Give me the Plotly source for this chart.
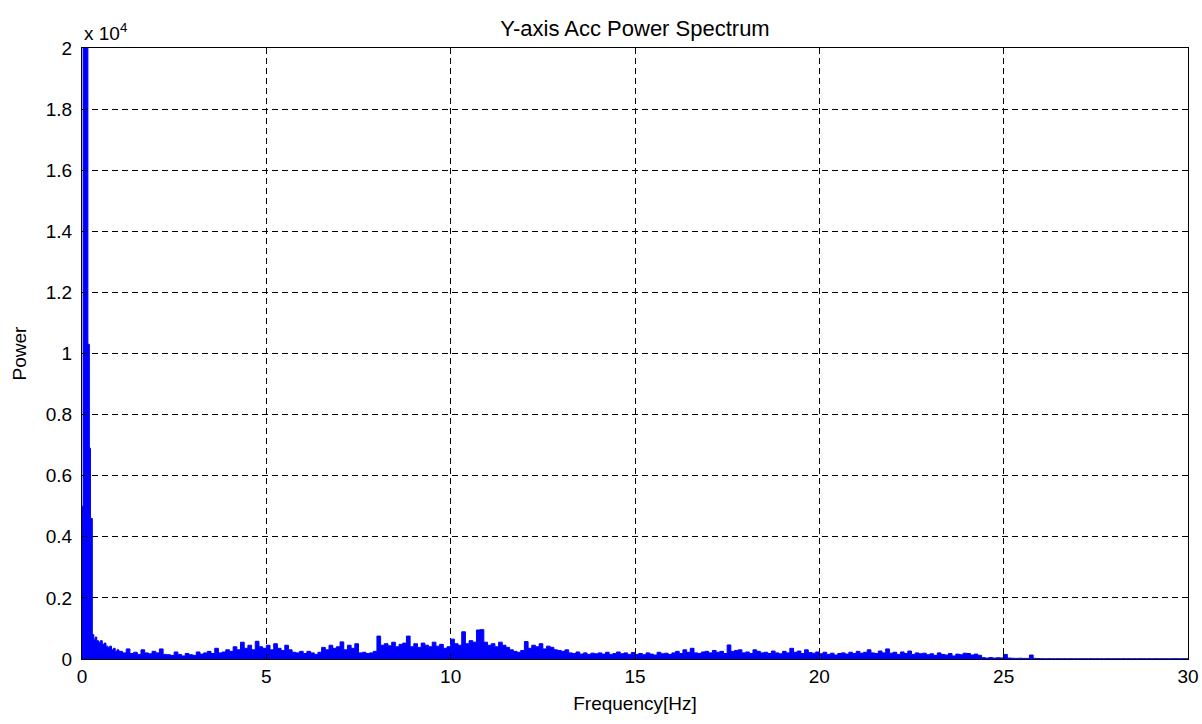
import plotly.graph_objects as go

# Low-frequency part (Hz, power)
freq_low = [0.00, 0.03, 0.16, 0.20, 0.23, 0.28, 0.32, 0.36, 0.40, 0.45,
            0.50, 0.55, 0.60, 0.65, 0.70, 0.75, 0.80, 0.85, 0.90, 0.95]
power_low = [5000, 26000, 10300, 6900, 4600, 800, 650, 720, 600, 550,
             600, 480, 520, 420, 380, 420, 300, 350, 250, 300]

# From 1.0 Hz onward, one row per Hz, 0.1 Hz steps
power_rows = [
    [250, 200, 330, 180, 220, 150, 300, 200, 170, 250],   # 1
    [200, 330, 150, 140, 120, 230, 150, 100, 180, 140],   # 2
    [120, 230, 160, 200, 250, 180, 350, 200, 230, 300],   # 3
    [250, 400, 300, 550, 350, 450, 300, 580, 400, 350],   # 4
    [450, 300, 500, 350, 280, 450, 300, 220, 200, 250],   # 5
    [180, 250, 200, 150, 220, 380, 300, 450, 350, 400],   # 6
    [560, 300, 450, 350, 500, 200, 220, 180, 200, 250],   # 7
    [750, 450, 500, 430, 550, 400, 480, 520, 750, 400],   # 8
    [500, 380, 520, 450, 400, 550, 420, 480, 350, 400],   # 9
    [650, 500, 450, 890, 500, 600, 550, 950, 960, 550],   # 10
    [450, 500, 400, 550, 450, 380, 300, 250, 220, 280],   # 11
    [570, 350, 450, 400, 500, 330, 420, 380, 300, 280],   # 12
    [250, 300, 200, 180, 230, 160, 200, 150, 190, 170],   # 13
    [200, 160, 220, 150, 180, 230, 170, 200, 150, 210],   # 14
    [150, 180, 140, 200, 160, 130, 220, 170, 190, 150],   # 15
    [200, 250, 180, 300, 220, 350, 200, 180, 230, 250],   # 16
    [200, 280, 220, 250, 180, 460, 250, 280, 300, 200],   # 17
    [230, 180, 300, 250, 200, 220, 180, 260, 200, 170],   # 18
    [250, 200, 350, 220, 260, 180, 300, 210, 190, 230],   # 19
    [170, 220, 150, 190, 130, 180, 200, 160, 220, 180],   # 20
    [250, 190, 220, 300, 200, 180, 260, 200, 330, 190],   # 21
    [220, 150, 230, 180, 260, 150, 200, 170, 190, 140],   # 22
    [170, 120, 200, 150, 130, 180, 100, 160, 140, 190],   # 23
    [180, 130, 160, 120, 45, 30, 50, 30, 40, 35],         # 24
    [150, 30, 25, 20, 25, 20, 20, 130, 20, 15],           # 25
    [12, 10, 12, 10, 11, 10, 12, 10, 11, 10],             # 26
    [10, 11, 10, 12, 10, 11, 10, 10, 12, 10],             # 27
    [11, 10, 12, 10, 10, 11, 10, 12, 10, 11],             # 28
    [10, 12, 10, 11, 10, 10, 12, 10, 11, 10],             # 29
]
first_row_hz = 1

y_tickvals = [0, 2000, 4000, 6000, 8000, 10000, 12000, 14000, 16000, 18000, 20000]
y_ticktext = ["0", "0.2", "0.4", "0.6", "0.8", "1", "1.2", "1.4", "1.6", "1.8", "2"]
x_tickvals = [0, 5, 10, 15, 20, 25, 30]

freq = list(freq_low)
power = list(power_low)
for r, row in enumerate(power_rows):
    for j, v in enumerate(row):
        freq.append(round(first_row_hz + r + j * 0.1, 2))
        power.append(v)
freq.append(30.0)
power.append(power[-1])

fig = go.Figure()
fig.add_trace(go.Scatter(
    x=freq, y=power, mode="lines",
    line=dict(color="#0000ff", width=1, shape="hv"),
    fill="tozeroy", fillcolor="#0000ff",
    showlegend=False, hoverinfo="skip",
))

FAM = "Liberation Sans, Arial, sans-serif"
tick_font = dict(family=FAM, size=19, color="black")
label_font = dict(family=FAM, size=19, color="black")
title_font = dict(family=FAM, size=22, color="black")

axis_common = dict(
    showline=True, linecolor="black", linewidth=1, mirror="ticks",
    ticks="inside", ticklen=5, tickcolor="black",
    showgrid=True, gridcolor="black", gridwidth=1, griddash="6px,4px",
    zeroline=False, tickfont=tick_font, automargin=False,
)
fig.update_xaxes(range=[0, 30], tickvals=x_tickvals,
                 title=dict(text="Frequency[Hz]", font=label_font, standoff=10),
                 **axis_common)
fig.update_yaxes(range=[0, 20000], tickvals=y_tickvals, ticktext=y_ticktext,
                 ticklabelstandoff=5,
                 title=dict(text="Power", font=label_font, standoff=14),
                 **axis_common)

fig.update_layout(
    width=1202, height=724,
    margin=dict(l=82, r=14, t=48, b=65),
    paper_bgcolor="white", plot_bgcolor="white",
    font=tick_font,
    title=dict(text="Y-axis Acc Power Spectrum", x=0.5, xref="paper",
               xanchor="center", y=1 - 28 / 724, yanchor="middle",
               font=title_font),
    annotations=[dict(text="x 10<sup>4</sup>", xref="paper", yref="paper",
                      x=0, y=1, xanchor="left", yanchor="bottom",
                      showarrow=False, font=dict(family=FAM, size=19, color="black"),
                      yshift=2)],
)

fig.write_html("out.html", config={"displayModeBar": False},
               post_script="document.body.style.margin='0px';")
